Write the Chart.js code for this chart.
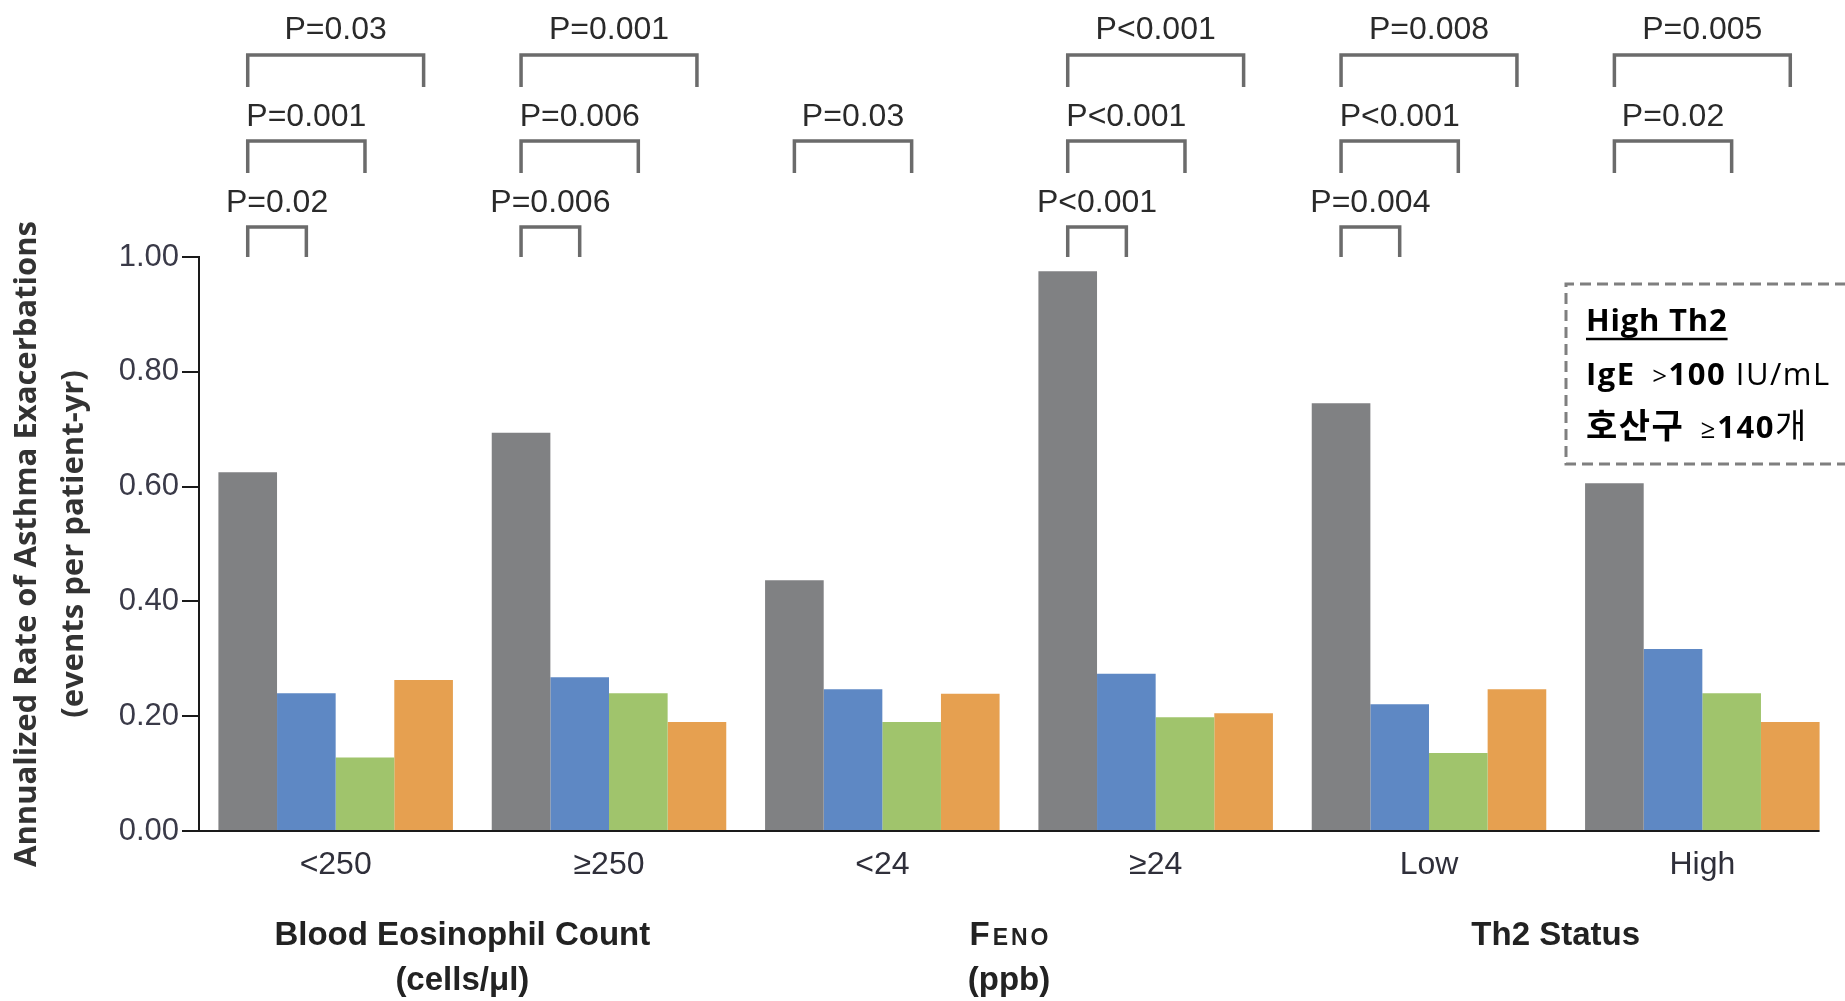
<!DOCTYPE html>
<html>
<head>
<meta charset="utf-8">
<script src="https://cdn.jsdelivr.net/npm/chart.js@4.4.1/dist/chart.umd.min.js"></script>
<style>
html,body{margin:0;padding:0;background:#fff;overflow:hidden}
#wrap{width:1845px;height:1001px;position:relative}
canvas{display:block}
</style>
</head>
<body>
<div id="wrap"><canvas id="c" width="1845" height="1001"></canvas></div>
<script>
// ---- data ----
const categories = ['<250', '≥250', '<24', '≥24', 'Low', 'High'];
const seriesNames = ['Placebo', 'Tezepelumab 70 mg q4w', 'Tezepelumab 210 mg q4w', 'Tezepelumab 280 mg q2w'];
const placebo = [0.625, 0.694, 0.437, 0.975, 0.745, 0.606];
const dose70 = [0.240, 0.268, 0.247, 0.274, 0.221, 0.317];
const dose210 = [0.128, 0.240, 0.190, 0.198, 0.136, 0.240];
const dose280 = [0.263, 0.190, 0.239, 0.205, 0.247, 0.190];
const yTicks = [0, 0.2, 0.4, 0.6, 0.8, 1.0];
// P values: placebo vs each dose group, per category (null = no bracket)
const pVs70 = ['P=0.02', 'P=0.006', null, 'P<0.001', 'P=0.004', null];
const pVs210 = ['P=0.001', 'P=0.006', 'P=0.03', 'P<0.001', 'P<0.001', 'P=0.02'];
const pVs280 = ['P=0.03', 'P=0.001', null, 'P<0.001', 'P=0.008', 'P=0.005'];
const groupTitles = [['Blood Eosinophil Count', '(cells/μl)'], ['FENO', '(ppb)'], ['Th2 Status', '']];
const groupMembers = [[0, 1], [2, 3], [4, 5]];
const yTitle = ['Annualized Rate of Asthma Exacerbations', '(events per patient-yr)'];
const noteTitle = 'High Th2';
const noteLine1 = [['IgE', 'lb'], ['  >', 'ls'], ['100', 'lb'], [' IU/mL', 'lr']];
const noteLine2 = [['호산구', 'kb'], ['  ≥', 'ls'], ['140', 'lb'], ['개', 'kr']];

// ---- styles ----
const colors = ['#808183', '#5E88C4', '#A0C46C', '#E6A050'];
const SANS = '"Liberation Sans", Arial, sans-serif';
const BOLD_ROUND = '"Open Sans", "Noto Sans", sans-serif';
const KR = '"Noto Sans CJK KR", "Open Sans", sans-serif';

const brackets = {
  id: 'brackets',
  afterDatasetsDraw(chart) {
    const ctx = chart.ctx;
    const ca = chart.chartArea;
    const base = chart.getDatasetMeta(0).data;
    // x-axis line up to the last bar
    const lastMeta = chart.getDatasetMeta(3).data;
    const lastBar = lastMeta[lastMeta.length - 1];
    ctx.save();
    ctx.strokeStyle = '#1a1a1a';
    ctx.lineWidth = 2;
    ctx.beginPath();
    ctx.moveTo(ca.left - 1, ca.bottom);
    ctx.lineTo(lastBar.x + lastBar.width / 2, ca.bottom);
    ctx.stroke();
    ctx.restore();

    const levels = [
      { p: pVs70, ds: 1, lineY: 227, legY: 257, textY: 212 },
      { p: pVs210, ds: 2, lineY: 141, legY: 173, textY: 126 },
      { p: pVs280, ds: 3, lineY: 55, legY: 87, textY: 39 }
    ];
    ctx.save();
    levels.forEach(lv => {
      const tgt = chart.getDatasetMeta(lv.ds).data;
      lv.p.forEach((txt, i) => {
        if (!txt) return;
        const x1 = base[i].x, x2 = tgt[i].x;
        ctx.strokeStyle = '#6b6b6b';
        ctx.lineWidth = 3.5;
        ctx.lineJoin = 'miter';
        ctx.beginPath();
        ctx.moveTo(x1, lv.legY);
        ctx.lineTo(x1, lv.lineY);
        ctx.lineTo(x2, lv.lineY);
        ctx.lineTo(x2, lv.legY);
        ctx.stroke();
        ctx.fillStyle = '#2a2a2a';
        ctx.font = '32px ' + SANS;
        ctx.textAlign = 'center';
        ctx.textBaseline = 'alphabetic';
        ctx.fillText(txt, (x1 + x2) / 2, lv.textY);
      });
    });
    ctx.restore();

    // group titles under the axis
    const xs = chart.scales.x;
    ctx.save();
    ctx.fillStyle = '#222';
    ctx.textBaseline = 'alphabetic';
    groupTitles.forEach((lines, gi) => {
      const m = groupMembers[gi];
      const cx = m.reduce((s, k) => s + xs.getPixelForValue(k), 0) / m.length - 10;
      lines.forEach((t, li) => {
        if (!t) return;
        const y = li === 0 ? 945 : 990;
        if (t === 'FENO') {
          const big = 'bold 33px ' + SANS, small = 'bold 23px ' + SANS;
          ctx.font = big; const w1 = ctx.measureText(t[0]).width;
          ctx.font = small;
          const rest = t.slice(1).split('');
          const sp = 3;
          let w2 = 0; rest.forEach(c => w2 += ctx.measureText(c).width); w2 += sp * rest.length;
          let x = cx - (w1 + w2) / 2;
          ctx.textAlign = 'left';
          ctx.font = big; ctx.fillText(t[0], x, y); x += w1 + sp;
          ctx.font = small;
          rest.forEach(c => { ctx.fillText(c, x, y); x += ctx.measureText(c).width + sp; });
        } else {
          ctx.font = 'bold 33px ' + SANS;
          ctx.textAlign = 'center';
          ctx.fillText(t, cx, y);
        }
      });
    });
    ctx.restore();

    // dashed note box
    ctx.save();
    ctx.strokeStyle = '#7f7f7f';
    ctx.lineWidth = 3;
    ctx.setLineDash([11, 6]);
    ctx.beginPath();
    ctx.moveTo(1880, 284);
    ctx.lineTo(1566, 284);
    ctx.lineTo(1566, 464);
    ctx.lineTo(1880, 464);
    ctx.stroke();
    ctx.setLineDash([]);
    ctx.fillStyle = '#000';
    ctx.textAlign = 'left';
    ctx.textBaseline = 'alphabetic';
    if ('letterSpacing' in ctx) ctx.letterSpacing = '0.8px';
    ctx.font = 'bold 31px ' + BOLD_ROUND;
    ctx.fillText(noteTitle, 1586, 331);
    const tw = ctx.measureText(noteTitle).width;
    ctx.lineWidth = 2.5;
    ctx.strokeStyle = '#000';
    ctx.beginPath(); ctx.moveTo(1586, 339); ctx.lineTo(1586 + tw, 339); ctx.stroke();
    const runFonts = {
      lb: 'bold 31px ' + BOLD_ROUND, lr: '31px ' + BOLD_ROUND, ls: '26px ' + BOLD_ROUND,
      kb: 'bold 34px ' + KR, kr: '34px ' + KR
    };
    if ('letterSpacing' in ctx) ctx.letterSpacing = '1.5px';
    [[noteLine1, 385], [noteLine2, 438]].forEach(([runs, y]) => {
      let x = 1586;
      runs.forEach(([t, f]) => { ctx.font = runFonts[f]; ctx.fillText(t, x, y); x += ctx.measureText(t).width; });
    });
    ctx.restore();
  }
};

new Chart(document.getElementById('c'), {
  type: 'bar',
  data: {
    labels: categories,
    datasets: [placebo, dose70, dose210, dose280].map((d, i) => ({
      label: seriesNames[i],
      data: d,
      backgroundColor: colors[i],
      borderWidth: 0,
      barPercentage: 1.0,
      categoryPercentage: 0.858
    }))
  },
  options: {
    responsive: false,
    animation: false,
    devicePixelRatio: 1,
    layout: { padding: { top: 257, right: 6, left: 0, bottom: 0 } },
    plugins: { legend: { display: false }, tooltip: { enabled: false } },
    scales: {
      x: {
        grid: { display: false, drawTicks: false },
        border: { display: false },
        ticks: { color: '#2f2f3a', font: { family: SANS, size: 32 }, padding: 15, maxRotation: 0, autoSkip: false },
        afterFit(s) { s.height = 170; }
      },
      y: {
        min: 0, max: 1,
        afterBuildTicks(s) { s.ticks = yTicks.map(v => ({ value: v })); },
        ticks: {
          color: '#3a3a48',
          font: { family: SANS, size: 31 },
          padding: 3,
          callback: v => Number(v).toFixed(2)
        },
        grid: { drawOnChartArea: false, drawTicks: true, tickLength: 17, color: '#1a1a1a', lineWidth: 2 },
        border: { display: true, color: '#1a1a1a', width: 2 },
        title: {
          display: true,
          text: yTitle,
          color: '#333',
          font: { family: BOLD_ROUND, size: 31, weight: 'bold', lineHeight: '47px' },
          padding: { top: 4, bottom: 0 }
        },
        afterFit(s) { s.width = 199; }
      }
    }
  },
  plugins: [brackets]
});
</script>
</body>
</html>
